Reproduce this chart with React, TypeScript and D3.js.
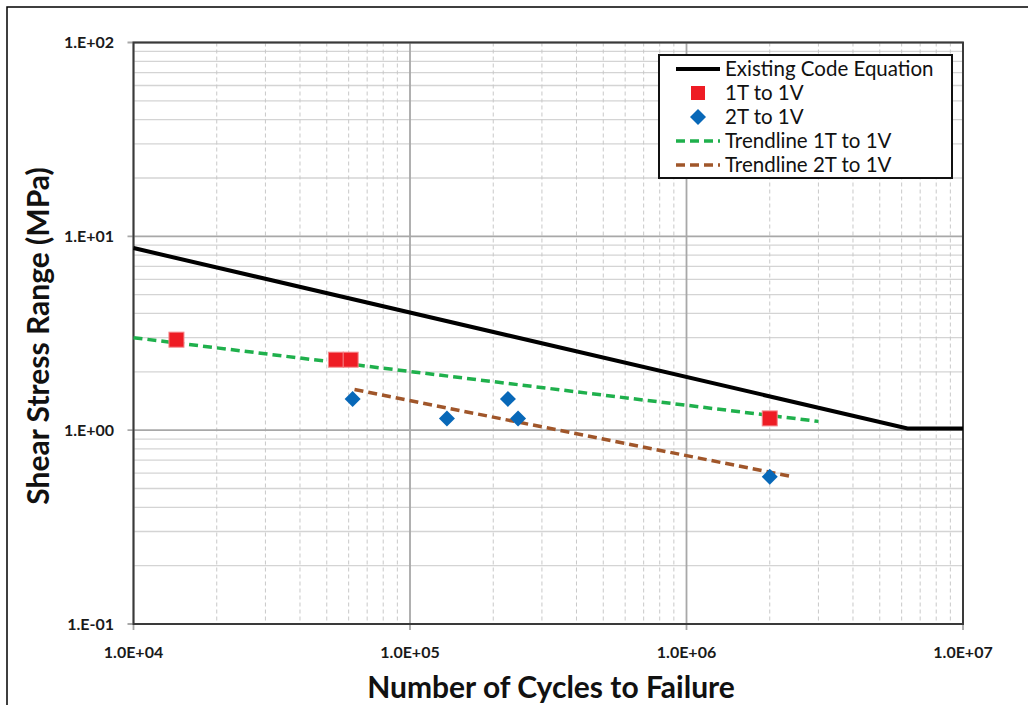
import React from "react";
import * as d3 from "d3";

const codeN = [1e4, 6.3e6, 1e7];
const codeS = [8.7, 1.02, 1.02];

const t1N = [1.43e4, 5.4e4, 6.1e4, 2.0e6];
const t1S = [2.93, 2.31, 2.31, 1.15];

const t2N = [6.2e4, 1.36e5, 2.26e5, 2.46e5, 2.0e6];
const t2S = [1.45, 1.15, 1.45, 1.15, 0.575];

const trend1N = [1e4, 3.0e6];
const trend1S = [3.0, 1.11];
const trend2N = [6.3e4, 2.35e6];
const trend2S = [1.62, 0.58];

const xTicks = [1e4, 1e5, 1e6, 1e7];
const xTickLabels = ["1.0E+04", "1.0E+05", "1.0E+06", "1.0E+07"];
const yTicks = [0.1, 1, 10, 100];
const yTickLabels = ["1.E-01", "1.E+00", "1.E+01", "1.E+02"];

const legendLabels = [
  "Existing Code Equation",
  "1T to 1V",
  "2T to 1V",
  "Trendline 1T to 1V",
  "Trendline 2T to 1V",
];

const W = 1028;
const H = 705;
const left = 133.5;
const right = 963;
const top = 42.5;
const bottom = 624;
const FONT = "Lato, 'Open Sans', sans-serif";

export default function App() {
  const x = d3.scaleLog().domain([1e4, 1e7]).range([left, right]);
  const y = d3.scaleLog().domain([0.1, 100]).range([bottom, top]);

  const minorX: number[] = [];
  for (let e = 4; e < 7; e++) for (let k = 2; k <= 9; k++) minorX.push(k * Math.pow(10, e));
  const minorY: number[] = [];
  for (let e = -1; e < 2; e++) for (let k = 2; k <= 9; k++) minorY.push(k * Math.pow(10, e));

  const line = d3
    .line<[number, number]>()
    .x((d) => x(d[0]))
    .y((d) => y(d[1]));

  const codePts = codeN.map((n, i) => [n, codeS[i]] as [number, number]);
  const tr1 = trend1N.map((n, i) => [n, trend1S[i]] as [number, number]);
  const tr2 = trend2N.map((n, i) => [n, trend2S[i]] as [number, number]);

  const green = "#1fb04c";
  const brown = "#a0562a";
  const red = "#ee1c24";
  const blue = "#0868b8";

  const sq = 15;
  const dm = 8;
  const diamond = (cx: number, cy: number) =>
    `M${cx},${cy - dm} L${cx + dm},${cy} L${cx},${cy + dm} L${cx - dm},${cy} Z`;

  const lgX = 659;
  const lgY = 55;
  const lgW = 293;
  const lgH = 123;
  const rowY = (i: number) => lgY + 14 + i * 24;

  return (
    <svg width={W} height={H} style={{ display: "block", position: "absolute", left: 0, top: 0 }}>
      <rect x={0} y={0} width={W} height={H} fill="#fff" />
      <rect x={7} y={7} width={W + 20} height={H + 20} fill="none" stroke="#000" strokeWidth={1.5} />
      {/* minor grid */}
      {minorY.map((v) => (
        <line key={"my" + v} x1={left} x2={right} y1={y(v)} y2={y(v)} stroke="#d4d4d4" strokeWidth={1.3} />
      ))}
      {minorX.map((v) => (
        <line key={"mx" + v} x1={x(v)} x2={x(v)} y1={top} y2={bottom} stroke="#c8c8c8" strokeWidth={1} strokeDasharray="4,3" />
      ))}
      {yTicks.map((v) => (
        <line key={"gy" + v} x1={left - 6} x2={right} y1={y(v)} y2={y(v)} stroke="#a8a8a8" strokeWidth={1.8} />
      ))}
      {xTicks.map((v) => (
        <line key={"gx" + v} x1={x(v)} x2={x(v)} y1={top} y2={bottom + 6} stroke="#a8a8a8" strokeWidth={1.8} />
      ))}
      {/* plot border */}
      <rect x={left} y={top} width={right - left} height={bottom - top} fill="none" stroke="#3a3a3a" strokeWidth={2} />

      {/* tick labels */}
      {yTicks.map((v, i) => (
        <text key={"ty" + v} x={114} y={y(v) + 5.5} textAnchor="end" fontFamily={FONT} fontWeight="bold" fontSize={16} fill="#1a1a1a">
          {yTickLabels[i]}
        </text>
      ))}
      {xTicks.map((v, i) => (
        <text key={"tx" + v} x={x(v)} y={658} textAnchor="middle" fontFamily={FONT} fontWeight="bold" fontSize={16} fill="#1a1a1a">
          {xTickLabels[i]}
        </text>
      ))}

      {/* axis titles */}
      <text x={551} y={698} textAnchor="middle" fontFamily={FONT} fontWeight="bold" fontSize={30} fill="#111">
        Number of Cycles to Failure
      </text>
      <text
        transform={`translate(49,336) rotate(-90)`}
        textAnchor="middle"
        fontFamily={FONT}
        fontWeight="bold"
        fontSize={30}
        fill="#111"
      >
        Shear Stress Range (MPa)
      </text>

      {/* code line */}
      <path d={line(codePts) || ""} fill="none" stroke="#000" strokeWidth={4} />
      {/* trendlines */}
      <path d={line(tr1) || ""} fill="none" stroke={green} strokeWidth={3.5} strokeDasharray="9,5" />
      <path d={line(tr2) || ""} fill="none" stroke={brown} strokeWidth={3.5} strokeDasharray="9,5" />

      {/* markers */}
      {t1N.map((n, i) => (
        <rect key={"r" + i} x={x(n) - sq / 2} y={y(t1S[i]) - sq / 2} width={sq} height={sq} fill={red} stroke="#f4868a" strokeWidth={1} />
      ))}
      {t2N.map((n, i) => (
        <path key={"d" + i} d={diamond(x(n), y(t2S[i]))} fill={blue} />
      ))}

      {/* legend */}
      <rect x={lgX} y={lgY} width={lgW} height={lgH} fill="#fff" stroke="#111" strokeWidth={2} />
      <line x1={676} x2={720} y1={rowY(0)} y2={rowY(0)} stroke="#000" strokeWidth={4} />
      <rect x={698 - 7} y={rowY(1) - 7} width={14} height={14} fill={red} />
      <path d={diamond(698, rowY(2))} fill={blue} />
      <line x1={676} x2={720} y1={rowY(3)} y2={rowY(3)} stroke={green} strokeWidth={3.5} strokeDasharray="9,5" />
      <line x1={676} x2={720} y1={rowY(4)} y2={rowY(4)} stroke={brown} strokeWidth={3.5} strokeDasharray="9,5" />
      {legendLabels.map((l, i) => (
        <text key={l} x={725} y={rowY(i) + 7} fontFamily={FONT} fontSize={20.5} fill="#111">
          {l}
        </text>
      ))}
    </svg>
  );
}
